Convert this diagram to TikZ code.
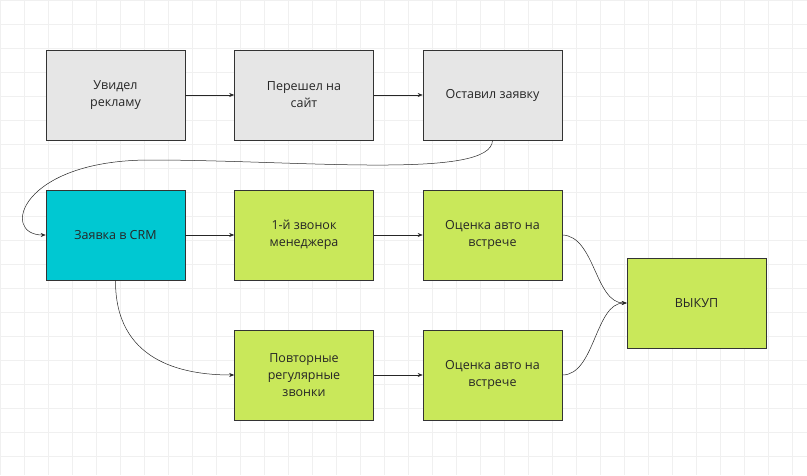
\documentclass[tikz,border=0pt]{standalone}
\usepackage{fontspec}
\setmainfont{Open Sans}
\usetikzlibrary{arrows.meta}
\definecolor{gbox}{HTML}{E6E6E6}
\definecolor{cbox}{HTML}{00C8D2}
\definecolor{lbox}{HTML}{C9E85A}
\begin{document}
\begin{tikzpicture}[x=1pt,y=-1pt,
  box/.style={draw=black!80,line width=0.6pt,minimum width=139pt,minimum height=90pt,align=center,font=\fontsize{12.5}{17}\selectfont,text=black!85},
  arr/.style={-{Stealth[length=5pt,width=4pt]},line width=0.5pt,black!85}]
\useasboundingbox (0,0) rectangle (807,475);
\fill[white] (0,0) rectangle (807,475);
\foreach \x in {0,24,...,807} \draw[black!6,line width=0.4pt] (\x,0) -- (\x,475);
\foreach \y in {0,24,...,475} \draw[black!6,line width=0.4pt] (0,\y) -- (807,\y);
\node[box,fill=gbox] (a) at (115.5,95) {Увидел\\рекламу};
\node[box,fill=gbox] (b) at (304,95) {Перешел на\\сайт};
\node[box,fill=gbox] (c) at (492.5,95) {Оставил заявку};
\node[box,fill=cbox] (d) at (115.5,235) {Заявка в CRM};
\node[box,fill=lbox] (e) at (304,235) {1-й звонок\\менеджера};
\node[box,fill=lbox] (f) at (492.5,235) {Оценка авто на\\встрече};
\node[box,fill=lbox] (g) at (304,375) {Повторные\\регулярные\\звонки};
\node[box,fill=lbox] (h) at (492.5,375) {Оценка авто на\\встрече};
\node[box,fill=lbox] (k) at (696.5,303) {ВЫКУП};
\draw[arr] (a) -- (b);
\draw[arr] (b) -- (c);
\draw[arr] (c.south) .. controls (492,180) and (300,160) .. (150,160) .. controls (20,160) and (0,235) .. (d.west);
\draw[arr] (d) -- (e);
\draw[arr] (e) -- (f);
\draw[arr] (g) -- (h);
\draw[arr] (d.south) .. controls (115,360) and (180,375) .. (g.west);
\draw[arr] (f.east) .. controls (595,236) and (595,303) .. (k.west);
\draw[arr] (h.east) .. controls (595,375) and (595,303) .. (k.west);
\end{tikzpicture}
\end{document}
